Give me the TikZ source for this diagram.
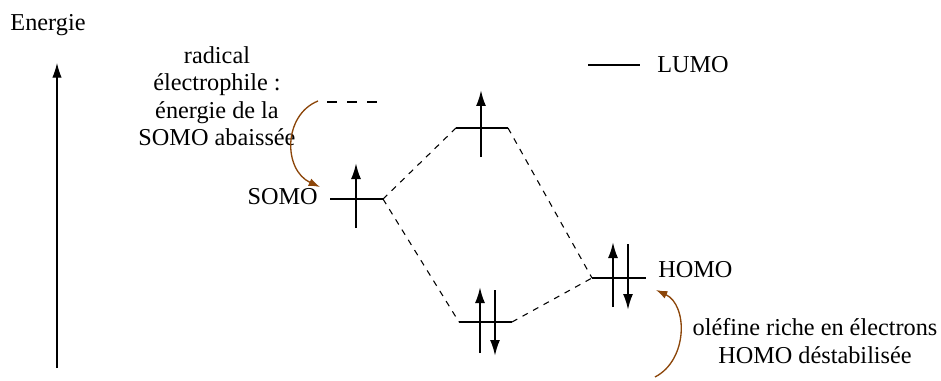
\documentclass[tikz,border=0pt]{standalone}
\usepackage{fontspec}
\setmainfont{Liberation Serif}
\usetikzlibrary{arrows.meta}
\definecolor{shiftbrown}{RGB}{140,70,10}

\begin{document}
\begin{tikzpicture}[x=0.75pt, y=-0.75pt,
  every node/.style={font=\fontsize{18.2}{20.6}\selectfont, inner sep=0pt},
  level/.style={line width=1.6pt},
  spin/.style={line width=1.6pt, -{Latex[length=12pt,width=7.5pt]}},
  corr/.style={line width=0.8pt, dash pattern=on 4.5pt off 4.5pt},
  shiftarrow/.style={line width=1pt, shiftbrown, -{Latex[length=8.5pt,width=6pt]}}]
\useasboundingbox (0,0) rectangle (941,381);

% axe des energies
\node (ener) at (48,25) {Energie};
\coordinate (axbot) at (57,368);
\coordinate (axtop) at (57,63);
\draw[line width=0.8pt, -{Latex[length=11pt,width=7pt]}] (axbot) -- (axtop);

% niveaux
\coordinate (somoL) at (330,199); \coordinate (somoR) at (383,199);
\coordinate (topL) at (456,128);  \coordinate (topR) at (508,128);
\coordinate (botL) at (459,322);  \coordinate (botR) at (512,322);
\coordinate (homoL) at (592,278); \coordinate (homoR) at (646,278);
\coordinate (lumoL) at (588,65);  \coordinate (lumoR) at (640,65);
\coordinate (oldL) at (327,102);  \coordinate (oldR) at (377,102);
\draw[level] (somoL) -- (somoR);
\draw[level] (topL) -- (topR);
\draw[level] (botL) -- (botR);
\draw[level] (homoL) -- (homoR);
\draw[line width=1.2pt] (lumoL) -- (lumoR);
\draw[line width=1.6pt, dash pattern=on 7.5pt off 7.5pt] (oldL) -- (oldR);

% electrons
\draw[spin] (356,228) -- (356,163);
\draw[spin] (481,157) -- (481,90);
\draw[spin] (480,353) -- (480,287);
\draw[spin] (495,290) -- (495,356);
\draw[spin] (613,307) -- (613,242);
\draw[spin] (628,244) -- (628,310);

% correlations
\draw[corr] (somoR) -- (topL);
\draw[corr] (somoR) -- (botL);
\draw[corr] (topR) -- (homoL);
\draw[corr] (botR) -- (homoL);

% etiquettes
\node[anchor=east] (somolab) at (318,197) {SOMO};
\node[anchor=west] (homolab) at (658,270) {HOMO};
\node[anchor=west] (lumolab) at (657,65) {LUMO};
\node[align=center] (radtxt) at (217,96) {radical\\électrophile :\\énergie de la\\SOMO abaissée};
\node[align=center] (oletxt) at (815,341) {oléfine riche en électrons\\HOMO déstabilisée};

% deplacements
\coordinate (s1) at (318,101); \coordinate (s2) at (320,187);
\coordinate (h1) at (655,377); \coordinate (h2) at (656,290);
\draw[shiftarrow] (s1) .. controls (283,115) and (283,170) .. (s2);
\draw[shiftarrow] (h1) .. controls (688,360) and (688,305) .. (h2);
\end{tikzpicture}
\end{document}
